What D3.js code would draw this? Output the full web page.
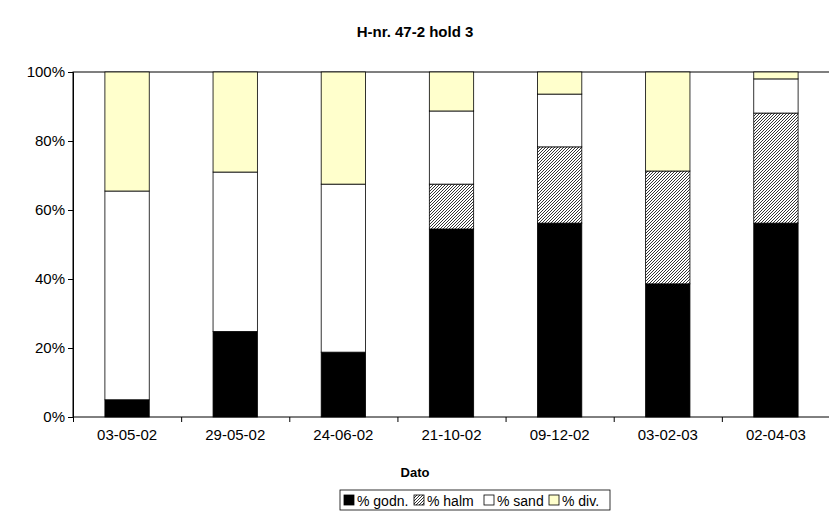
<!DOCTYPE html>
<html><head><meta charset="utf-8">
<script src="https://cdn.jsdelivr.net/npm/d3@7"></script>
<style>body{margin:0;background:#fff}text{font-family:"Liberation Sans",Arial,sans-serif}</style>
</head><body><div id="vis"></div>
<script>
const dates = ["03-05-02","29-05-02","24-06-02","21-10-02","09-12-02","03-02-03","02-04-03"];
const godn = [5.0, 24.8, 18.8, 54.5, 56.2, 38.6, 56.2];
const halm = [0, 0, 0, 13.0, 22.1, 32.7, 31.9];
const sand = [60.5, 46.2, 48.7, 21.2, 15.3, 0, 9.9];
const div  = [34.5, 29.0, 32.5, 11.3, 6.4, 28.7, 2.0];
const seriesNames = ["% godn.","% halm","% sand","% div."];
const yTicks = [0,20,40,60,80,100];

const W = 829, H = 526;
const M = {left: 73, right: -1, top: 72, bottom: 109};
const svg = d3.select("#vis").append("svg").attr("width", W).attr("height", H);

const defs = svg.append("defs");
const pat = defs.append("pattern").attr("id","hatch").attr("patternUnits","userSpaceOnUse")
  .attr("width",3).attr("height",3);
pat.append("rect").attr("width",3).attr("height",3).attr("fill","#fff");
pat.append("path").attr("d","M-1,1 l2,-2 M0,3 l3,-3 M2,4 l2,-2").attr("stroke","#000").attr("stroke-width",0.8);

const fills = ["#000","url(#hatch)","#fff","#ffffcc"];

const x = d3.scaleBand().domain(dates).range([M.left, W - M.right]).paddingInner(0.59).paddingOuter(0.295);
const y = d3.scaleLinear().domain([0,100]).range([H - M.bottom, M.top]);

const rows = dates.map((d,i) => ({date:d, "% godn.":godn[i], "% halm":halm[i], "% sand":sand[i], "% div.":div[i]}));
const stack = d3.stack().keys(seriesNames)(rows);

svg.append("rect").attr("x",M.left).attr("y",M.top).attr("width",W-M.left-M.right)
  .attr("height",H-M.top-M.bottom).attr("fill","none").attr("stroke","#000");

stack.forEach((s,k) => {
  svg.selectAll(null).data(s).enter().append("rect")
    .attr("x", d => x(d.data.date))
    .attr("y", d => y(d[1]))
    .attr("width", x.bandwidth())
    .attr("height", d => y(d[0]) - y(d[1]))
    .attr("fill", fills[k]).attr("stroke","#000").attr("stroke-width",0.8);
});

svg.append("g").attr("transform",`translate(${M.left},0)`)
  .call(d3.axisLeft(y).tickValues(yTicks).tickFormat(d => d + "%").tickSize(5))
  .call(g => g.selectAll("text").attr("font-size",15).attr("fill","#000").attr("font-family","Liberation Sans, Arial"));

svg.append("g").attr("transform",`translate(0,${H-M.bottom})`)
  .call(d3.axisBottom(x).tickSize(0).tickPadding(12))
  .call(g => g.select(".domain").remove())
  .call(g => g.selectAll("text").attr("font-size",15).attr("fill","#000").attr("font-family","Liberation Sans, Arial"));
svg.append("g").attr("transform",`translate(0,${H-M.bottom})`)
  .call(d3.axisBottom(d3.scaleLinear().domain([0,dates.length]).range([M.left,W-M.right])).ticks(dates.length).tickSize(5).tickFormat(""))
  .call(g => g.select(".domain").remove());

svg.append("text").attr("x",415).attr("y",37).attr("text-anchor","middle").attr("font-size",15).attr("font-weight","bold").text("H-nr. 47-2 hold 3");
svg.append("text").attr("x",415).attr("y",477).attr("text-anchor","middle").attr("font-size",13).attr("font-weight","bold").text("Dato");

const lg = svg.append("g");
lg.append("rect").attr("x",340).attr("y",490).attr("width",270).attr("height",20).attr("fill","#fff").attr("stroke","#000").attr("stroke-width",0.8);
const lx = [344, 414, 484, 549];
seriesNames.forEach((n,k) => {
  lg.append("rect").attr("x",lx[k]).attr("y",495).attr("width",10).attr("height",10).attr("fill",fills[k]).attr("stroke","#000").attr("stroke-width",0.8);
  lg.append("text").attr("x",lx[k]+13).attr("y",505.5).attr("font-size",14).text(n);
});
</script></body></html>
